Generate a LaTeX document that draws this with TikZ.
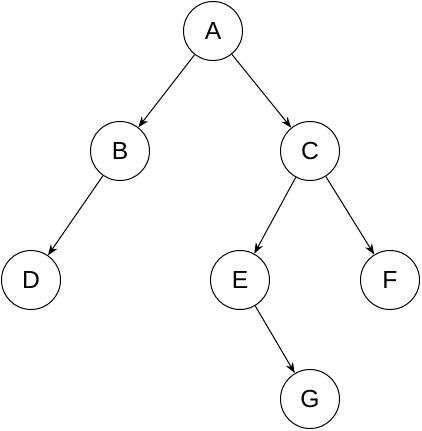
\documentclass[tikz,border=0pt]{standalone}
\usepackage{fontspec}
\setmainfont{Liberation Sans}
\usetikzlibrary{arrows.meta}

\begin{document}
\begin{tikzpicture}[
    x=0.75pt, y=-0.75pt,
    font=\fontsize{18.5}{22}\selectfont,
    vert/.style={draw, circle, line width=0.75pt, minimum size=44.25pt, inner sep=0pt, fill=white},
    ar/.style={-{Stealth[length=8pt, width=6pt, inset=2.5pt]}, line width=0.75pt},
  ]
    \useasboundingbox (0,0) rectangle (421,431);
    \node[vert] (a) at (213,31) {A};
    \node[vert] (b) at (120,151) {B};
    \node[vert] (c) at (310,151) {C};
    \node[vert] (d) at (31,280) {D};
    \node[vert] (e) at (240,280) {E};
    \node[vert] (f) at (390,280) {F};
    \node[vert] (g) at (310,399) {G};
    \draw[ar] (a) -- (b);
    \draw[ar] (a) -- (c);
    \draw[ar] (b) -- (d);
    \draw[ar] (c) -- (e);
    \draw[ar] (c) -- (f);
    \draw[ar] (e) -- (g);
  \end{tikzpicture}
\end{document}
